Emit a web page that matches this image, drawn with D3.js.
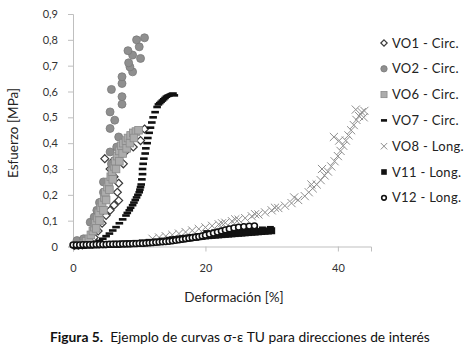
<!DOCTYPE html>
<html>
<head>
<meta charset="utf-8">
<script src="https://cdn.jsdelivr.net/npm/d3@7"></script>
<style>
    body { margin: 0; background: #ffffff; }
    text { font-family: Lato, "Open Sans", sans-serif; }
</style>
</head>
<body>
<div id="chart"></div>
<script>
// ====== Data: [deformacion %, esfuerzo MPa] ======
const vo1 = [[0.2,0.004],[0.8,0.005],[1.4,0.006],[2.0,0.01],[2.6,0.02],[3.2,0.035],[3.8,0.06],[4.4,0.09],
    [5.0,0.12],[5.6,0.14],[6.2,0.16],[6.9,0.178],[6.7,0.21],[6.9,0.245],[6.2,0.27],[5.6,0.30],[4.8,0.34],
    [6.0,0.33],[7.6,0.32],[7.2,0.36],[8.0,0.37],[9.1,0.385],[8.6,0.41],[10.2,0.41],[9.4,0.44],[10.8,0.455]];

const vo2 = [[0.6,0.023],[1.6,0.03],[2.6,0.094],[3.2,0.114],[3.6,0.14],[4.0,0.17],[4.6,0.21],[4.6,0.25],
    [5.8,0.32],[5.6,0.366],[6.6,0.385],[6.9,0.424],[5.6,0.457],[6.3,0.489],[5.6,0.521],[5.8,0.608],
    [7.4,0.551],[7.4,0.58],[7.4,0.631],[7.4,0.657],[9.0,0.676],[8.6,0.695],[8.4,0.711],[9.0,0.741],
    [8.3,0.758],[10.2,0.728],[10.0,0.773],[9.6,0.80],[10.8,0.808]];

const vo6 = [[1.6,0.01],[2.0,0.02],[2.4,0.03],[2.7,0.045],[3.0,0.06],[3.2,0.075],[3.4,0.09],[3.7,0.11],
    [3.9,0.13],[4.2,0.15],[4.4,0.17],[4.7,0.19],[4.9,0.21],[5.2,0.23],[5.4,0.25],[5.7,0.27],[5.9,0.29],
    [6.2,0.31],[6.4,0.33],[6.7,0.35],[7.0,0.37],[7.3,0.39],[7.6,0.40],[8.0,0.41],[8.3,0.42],[8.7,0.43],
    [9.1,0.44],[9.5,0.445],[9.9,0.45],[3.5,0.07],[4.0,0.10],[4.6,0.14],[5.0,0.18],[5.5,0.22],[6.0,0.26],
    [6.5,0.30],[7.0,0.33],[7.5,0.36],[8.1,0.38],[8.6,0.40],[9.2,0.42]];

const vo7 = [[2.5,0.003],[3.0,0.008],[3.5,0.015],[4.0,0.022],[4.5,0.03],[5.0,0.04],[5.5,0.05],[6.0,0.062],
    [6.5,0.075],[7.0,0.09],[7.5,0.105],[8.0,0.12],[8.2,0.13],[8.5,0.14],[8.7,0.15],[9.0,0.16],[9.2,0.17],
    [9.4,0.18],[9.6,0.19],[9.8,0.20],[10.0,0.21],[10.1,0.22],[10.2,0.23],[10.3,0.24],[10.4,0.26],
    [10.5,0.28],[10.5,0.30],[10.6,0.32],[10.7,0.34],[10.9,0.36],[11.0,0.38],[11.2,0.40],[11.3,0.42],
    [11.5,0.44],[11.7,0.46],[11.9,0.48],[12.1,0.50],[12.4,0.52],[12.7,0.54],[12.9,0.55],[13.1,0.555],
    [13.3,0.56],[13.5,0.565],[13.7,0.57],[13.9,0.575],[14.1,0.58],[14.3,0.583],[14.5,0.585],[14.7,0.588],
    [14.9,0.59],[15.1,0.592],[15.3,0.585]];

const vo8 = [[12,0.03],[13,0.035],[14,0.04],[15,0.045],[16,0.05],[17,0.056],[18,0.062],[19,0.068],
    [20,0.074],[21,0.08],[22,0.086],[22.5,0.09],[23,0.092],[24,0.098],[24.5,0.105],[25,0.104],[26,0.11],
    [27,0.117],[27.5,0.125],[28,0.124],[29,0.132],[30,0.14],[30.5,0.15],[31,0.149],[32,0.158],[33,0.168],
    [33.4,0.19],[34,0.18],[35,0.195],[35.6,0.21],[36,0.24],[36.2,0.225],[36.8,0.24],[37.4,0.257],
    [37.6,0.30],[38,0.275],[38.5,0.29],[39,0.31],[39.5,0.33],[40,0.35],[40.4,0.37],[40.8,0.39],
    [41.2,0.41],[41.6,0.43],[42,0.45],[42.4,0.47],[42.8,0.49],[43.2,0.505],[43.6,0.52],[44,0.525],
    [39.4,0.424],[40.2,0.41],[42.7,0.53],[43.9,0.50]];

const v11 = [[0.5,0.003],[1.5,0.004],[2.5,0.005],[3.5,0.006],[4.5,0.007],[5.5,0.008],[6.5,0.009],
    [7.5,0.010],[8.5,0.011],[9.5,0.012],[10.5,0.014],[11.5,0.016],[12.5,0.018],[13.5,0.021],[14.5,0.024],
    [15.0,0.026],[15.5,0.027],[16.0,0.029],[16.5,0.030],[17.0,0.032],[17.5,0.033],[18.0,0.035],[18.5,0.036],
    [19.0,0.038],[19.5,0.039],[20.0,0.041],[20.5,0.042],[21.0,0.043],[21.5,0.044],[22.0,0.045],[22.5,0.046],
    [23.0,0.047],[23.5,0.048],[24.0,0.049],[24.5,0.050],[25.0,0.051],[25.5,0.052],[26.0,0.053],[26.5,0.054],
    [27.0,0.055],[27.5,0.056],[28.0,0.057],[28.5,0.058],[29.0,0.059],[29.5,0.060],[30.0,0.061],
    [20.2,0.050],[21.4,0.052],[22.6,0.054],[23.8,0.056],[25.0,0.058],[26.2,0.060],[27.4,0.062],
    [28.6,0.064],[29.8,0.066]];

const v12 = [[0.0,0.006],[0.5,0.006],[1.0,0.006],[1.5,0.007],[2.0,0.007],[2.5,0.007],[3.0,0.007],
    [3.5,0.008],[4.0,0.008],[4.5,0.008],[5.0,0.008],[5.5,0.009],[6.0,0.009],[6.5,0.009],[7.0,0.009],
    [7.5,0.010],[8.0,0.010],[8.5,0.010],[9.0,0.011],[9.5,0.011],[10.0,0.012],[10.5,0.012],[11.0,0.013],
    [11.5,0.014],[12.0,0.015],[12.5,0.016],[13.0,0.017],[13.5,0.018],[14.0,0.019],[14.5,0.020],
    [15.0,0.022],[15.5,0.024],[16.0,0.026],[16.5,0.028],[17.0,0.030],[17.5,0.032],[18.0,0.034],
    [18.5,0.036],[19.0,0.038],[19.5,0.041],[20.0,0.044],[20.6,0.048],[21.2,0.052],[21.8,0.056],
    [22.4,0.060],[23.0,0.064],[23.6,0.068],[24.3,0.072],[25.0,0.075],[25.8,0.077],[26.6,0.079],[27.4,0.080]];

const seriesNames = ["VO1 - Circ.", "VO2 - Circ.", "VO6 - Circ.", "VO7 - Circ.", "VO8 - Long.", "V11 - Long.", "V12 - Long."];
const seriesData = [vo1, vo2, vo6, vo7, vo8, v11, v12];
const yTicks = [0, 0.1, 0.2, 0.3, 0.4, 0.5, 0.6, 0.7, 0.8, 0.9];
const xTicks = [0, 20, 40];

// ====== Layout ======
const width = 469;
const height = 352;
const margin = { top: 14, right: 98, bottom: 105.5, left: 73 };
const innerWidth = width - margin.left - margin.right;
const innerHeight = height - margin.top - margin.bottom;
const axisColor = "#bfbfbf";

const svg = d3.select("#chart")
    .append("svg")
    .attr("width", width)
    .attr("height", height)
    .style("background", "#ffffff");

const plot = svg.append("g")
    .attr("transform", `translate(${margin.left}, ${margin.top})`);

const x = d3.scaleLinear().domain([0, 45]).range([0, innerWidth]);
const y = d3.scaleLinear().domain([0, 0.9]).range([innerHeight, 0]);

// Axes
const yAxis = plot.append("g")
    .call(d3.axisLeft(y).tickValues(yTicks).tickSize(5).tickPadding(10)
        .tickFormat(d => d === 0 ? "0" : d3.format(".1f")(d).replace(".", ",")));
const xAxis = plot.append("g")
    .attr("transform", `translate(0, ${innerHeight})`)
    .call(d3.axisBottom(x).tickValues(xTicks).tickSize(5).tickPadding(13).tickFormat(d3.format("d")));

[xAxis, yAxis].forEach(a => {
    a.select(".domain").attr("stroke", axisColor);
    a.selectAll(".tick line").attr("stroke", axisColor);
    a.selectAll(".tick text")
        .attr("fill", "#333")
        .style("font-size", "11px")
        .style("font-family", "Lato, sans-serif");
});

// Marker drawing, one per series style
function DrawMarker(sel, idx, scale) {
    const s = scale || 1;
    if (idx === 0) {
        sel.append("path")
            .attr("d", d3.symbol(d3.symbolDiamond2, 40 * s * s)())
            .attr("fill", "#ffffff").attr("stroke", "#3a3a3a").attr("stroke-width", 1.2);
    } else if (idx === 1) {
        sel.append("circle").attr("r", 4 * s)
            .attr("fill", "#8f8f8f").attr("stroke", "#7a7a7a").attr("stroke-width", 0.8);
    } else if (idx === 2) {
        sel.append("rect").attr("x", -3.8 * s).attr("y", -3.8 * s)
            .attr("width", 7.6 * s).attr("height", 7.6 * s)
            .attr("fill", "#acacac").attr("stroke", "#8a8a8a").attr("stroke-width", 0.8);
    } else if (idx === 3) {
        sel.append("rect").attr("x", -3.8 * s).attr("y", -1.3)
            .attr("width", 7.6 * s).attr("height", 2.6)
            .attr("fill", "#111");
    } else if (idx === 4) {
        sel.append("path")
            .attr("d", d3.symbol(d3.symbolTimes, 45 * s * s)())
            .attr("fill", "none").attr("stroke", "#8e8e8e").attr("stroke-width", 1);
    } else if (idx === 5) {
        sel.append("rect").attr("x", -3.5 * s).attr("y", -3.5 * s)
            .attr("width", 7 * s).attr("height", 7 * s)
            .attr("fill", "#111");
    } else {
        sel.append("circle").attr("r", 2.9 * s)
            .attr("fill", "#ffffff").attr("stroke", "#111").attr("stroke-width", 1.6);
    }
}

// Draw every series, Excel order (last on top)
seriesData.forEach((data, i) => {
    plot.append("g")
        .selectAll("g")
        .data(data)
        .join("g")
        .attr("transform", d => `translate(${x(d[0])}, ${y(d[1])})`)
        .each(function () { DrawMarker(d3.select(this), i, 1); });
});

// Legend
const legend = svg.append("g").attr("transform", "translate(384, 43)");
seriesNames.forEach((name, i) => {
    const row = legend.append("g").attr("transform", `translate(0, ${i * 25.8})`);
    DrawMarker(row, i, 0.8);
    row.append("text")
        .attr("x", 8)
        .attr("dy", "0.35em")
        .attr("fill", "#222")
        .style("font-size", "13px")
        .style("letter-spacing", "0.3px")
        .text(name);
});

// Axis titles
svg.append("text")
    .attr("x", 234)
    .attr("y", 297)
    .attr("dy", "0.35em")
    .attr("text-anchor", "middle")
    .attr("fill", "#222")
    .style("font-size", "13.5px")
    .text("Deformación [%]");

svg.append("text")
    .attr("transform", "translate(13, 133) rotate(-90)")
    .attr("dy", "0.35em")
    .attr("text-anchor", "middle")
    .attr("fill", "#222")
    .style("font-size", "13.5px")
    .text("Esfuerzo [MPa]");

// Caption
const caption = svg.append("text")
    .attr("x", 50)
    .attr("y", 342)
    .attr("fill", "#111")
    .style("font-size", "13.8px");
caption.append("tspan").style("font-weight", "bold").text("Figura 5.");
caption.append("tspan").text("\u00a0 Ejemplo de curvas σ-ε TU para direcciones de interés");
</script>
</body>
</html>
